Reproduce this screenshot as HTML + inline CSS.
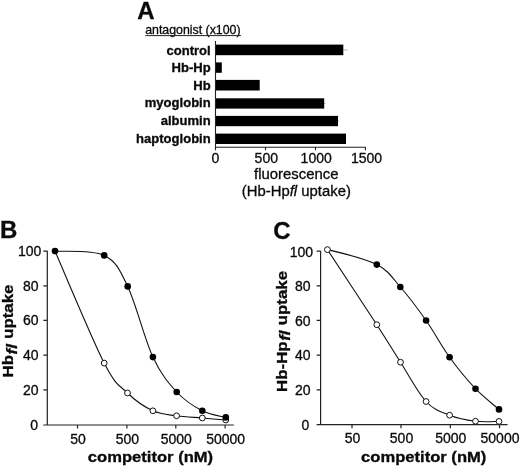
<!DOCTYPE html>
<html><head><meta charset="utf-8"><title>Figure</title>
<style>
html,body{margin:0;padding:0;background:#fff;}
body{width:520px;height:468px;overflow:hidden;font-family:"Liberation Sans",sans-serif;}
svg{display:block;filter:grayscale(1);font-family:"Liberation Sans",sans-serif;fill:#0a0a0a;}
text{stroke:#0a0a0a;stroke-width:0.3px;}
</style></head><body>
<svg width="520" height="468" viewBox="0 0 520 468">
<rect width="520" height="468" fill="#fff"/>
<text x="137.3" y="19.3" font-size="24" font-weight="bold">A</text>
<text x="145.2" y="33.6" font-size="12.35">antagonist (x100)</text>
<rect x="145.3" y="35.1" width="95.6" height="1" fill="#222"/>
<text transform="translate(210.7 54.6) scale(1.07 1)" font-size="12.2" font-weight="bold" text-anchor="end">control</text>
<text transform="translate(210.7 72.1) scale(1.07 1)" font-size="12.2" font-weight="bold" text-anchor="end">Hb-Hp</text>
<text transform="translate(210.7 90.0) scale(1.07 1)" font-size="12.2" font-weight="bold" text-anchor="end">Hb</text>
<text transform="translate(210.7 107.4) scale(1.07 1)" font-size="12.2" font-weight="bold" text-anchor="end">myoglobin</text>
<text transform="translate(210.7 125.3) scale(1.07 1)" font-size="12.2" font-weight="bold" text-anchor="end">albumin</text>
<text transform="translate(210.7 142.8) scale(1.07 1)" font-size="12.2" font-weight="bold" text-anchor="end">haptoglobin</text>
<rect x="215.5" y="44.6" width="127.8" height="10.6" fill="#000"/>
<rect x="215.5" y="62.4" width="6.3" height="10.4" fill="#000"/>
<rect x="215.5" y="79.9" width="44.2" height="10.6" fill="#000"/>
<rect x="215.5" y="98.3" width="108.7" height="10.3" fill="#000"/>
<rect x="215.5" y="115.9" width="122.5" height="10.3" fill="#000"/>
<rect x="215.5" y="133.6" width="130.5" height="10.4" fill="#000"/>
<path d="M343 50 H347.3 M324 103.5 H325.6 M338 121 H339" stroke="#999" stroke-width="0.8" fill="none"/>
<path d="M215.5 41 V147.3 M214.9 147.3 H365.9 M215.5 147.3 V150.2 M265.5 147.3 V150.2 M315.5 147.3 V150.2 M365.4 147.3 V150.2" stroke="#222" stroke-width="1.1" fill="none"/>
<text x="215.5" y="162.6" font-size="14" text-anchor="middle">0</text>
<text x="266.3" y="162.6" font-size="14" text-anchor="middle">500</text>
<text x="316.2" y="162.6" font-size="14" text-anchor="middle">1000</text>
<text x="366.5" y="162.6" font-size="14" text-anchor="middle">1500</text>
<text transform="translate(296.3 179) scale(1.06 1)" font-size="14.05" text-anchor="middle">fluorescence</text>
<text transform="translate(296.3 195.8) scale(1.06 1)" font-size="14.05" text-anchor="middle">(Hb-Hp<tspan font-style="italic">fl</tspan> uptake)</text>
<text x="0" y="238.3" font-size="24" font-weight="bold">B</text>
<path d="M47.3 250.7 V425.0 M46.8 425.0 H233.8 M43.3 251.2 H47.3 M43.3 285.8 H47.3 M43.3 320.4 H47.3 M43.3 355.1 H47.3 M43.3 389.8 H47.3 M43.3 425.0 H47.3 M77.5 425.0 V428.5 M126.9 425.0 V428.5 M175.8 425.0 V428.5 M225.1 425.0 V428.5" stroke="#222" stroke-width="1.2" fill="none"/>
<text x="41.3" y="255.9" font-size="14" text-anchor="end">100</text>
<text x="38.6" y="290.5" font-size="14" text-anchor="end">80</text>
<text x="38.6" y="325.1" font-size="14" text-anchor="end">60</text>
<text x="38.6" y="359.8" font-size="14" text-anchor="end">40</text>
<text x="38.6" y="394.5" font-size="14" text-anchor="end">20</text>
<text x="38" y="429.7" font-size="14" text-anchor="end">0</text>
<text x="78.0" y="443.8" font-size="14" text-anchor="middle">50</text>
<text x="127.4" y="443.8" font-size="14" text-anchor="middle">500</text>
<text x="176.3" y="443.8" font-size="14" text-anchor="middle">5000</text>
<text x="225.6" y="443.8" font-size="14" text-anchor="middle">50000</text>
<text transform="translate(150.5 461.6) scale(1.125 1)" font-size="14.75" font-weight="bold" text-anchor="middle">competitor (nM)</text>
<text transform="translate(13.0 331) rotate(-90) scale(1.125 1)" font-size="15" font-weight="bold" text-anchor="middle">Hb<tspan font-style="italic" dy="3.5" dx="0.5">fl</tspan><tspan dy="-3.5" dx="0.5"> uptake</tspan></text>
<path d="M55.00 251.10 C63.20 269.77 92.12 339.45 104.20 363.10 C116.28 386.75 119.38 385.05 127.50 393.00 C135.62 400.95 144.72 407.00 152.90 410.80 C161.08 414.60 168.37 414.60 176.60 415.80 C184.83 417.00 194.10 417.30 202.30 418.00 C210.50 418.70 221.88 419.67 225.80 420.00" stroke="#111" stroke-width="1.1" fill="none"/>
<path d="M55.00 251.10 C63.20 251.82 92.08 249.52 104.20 255.40 C116.32 261.28 119.58 269.45 127.70 286.40 C135.82 303.35 144.73 339.50 152.90 357.10 C161.07 374.70 168.47 383.05 176.70 392.00 C184.93 400.95 194.12 406.57 202.30 410.80 C210.48 415.03 221.88 416.30 225.80 417.40" stroke="#111" stroke-width="1.1" fill="none"/>
<circle cx="104.2" cy="363.1" r="2.9" fill="#fff" stroke="#111" stroke-width="1"/>
<circle cx="127.5" cy="393" r="2.9" fill="#fff" stroke="#111" stroke-width="1"/>
<circle cx="152.9" cy="410.8" r="2.9" fill="#fff" stroke="#111" stroke-width="1"/>
<circle cx="176.6" cy="415.8" r="2.9" fill="#fff" stroke="#111" stroke-width="1"/>
<circle cx="202.3" cy="418" r="2.9" fill="#fff" stroke="#111" stroke-width="1"/>
<circle cx="225.8" cy="420" r="2.9" fill="#fff" stroke="#111" stroke-width="1"/>
<circle cx="55" cy="251.1" r="3.3" fill="#000"/>
<circle cx="104.2" cy="255.4" r="3.3" fill="#000"/>
<circle cx="127.7" cy="286.4" r="3.3" fill="#000"/>
<circle cx="152.9" cy="357.1" r="3.3" fill="#000"/>
<circle cx="176.7" cy="392" r="3.3" fill="#000"/>
<circle cx="202.3" cy="410.8" r="3.3" fill="#000"/>
<circle cx="225.8" cy="417.4" r="3.3" fill="#000"/>
<text x="273.2" y="238.7" font-size="24" font-weight="bold">C</text>
<path d="M320.6 250.7 V424.7 M320.1 424.7 H507.5 M316.6 251.2 H320.6 M316.6 285.8 H320.6 M316.6 320.4 H320.6 M316.6 355.1 H320.6 M316.6 389.8 H320.6 M316.6 424.7 H320.6 M352 424.7 V428.2 M401 424.7 V428.2 M450.3 424.7 V428.2 M499.5 424.7 V428.2" stroke="#222" stroke-width="1.2" fill="none"/>
<text x="313" y="256.5" font-size="14" text-anchor="end">100</text>
<text x="310.6" y="291.1" font-size="14" text-anchor="end">80</text>
<text x="310.6" y="325.7" font-size="14" text-anchor="end">60</text>
<text x="310.6" y="360.4" font-size="14" text-anchor="end">40</text>
<text x="310.6" y="395.1" font-size="14" text-anchor="end">20</text>
<text x="309.2" y="430.0" font-size="14" text-anchor="end">0</text>
<text x="352.5" y="443.4" font-size="14" text-anchor="middle">50</text>
<text x="401.5" y="443.4" font-size="14" text-anchor="middle">500</text>
<text x="450.8" y="443.4" font-size="14" text-anchor="middle">5000</text>
<text x="500.0" y="443.4" font-size="14" text-anchor="middle">50000</text>
<text transform="translate(423.7 461.6) scale(1.125 1)" font-size="14.75" font-weight="bold" text-anchor="middle">competitor (nM)</text>
<text transform="translate(286.5 331.4) rotate(-90) scale(1.125 1)" font-size="15" font-weight="bold" text-anchor="middle">Hb-Hp<tspan font-style="italic" dy="3.5" dx="0.5">fl</tspan><tspan dy="-3.5" dx="0.5"> uptake</tspan></text>
<path d="M327.40 249.60 C335.63 262.12 364.62 305.93 376.80 324.70 C388.98 343.47 392.28 349.40 400.50 362.20 C408.72 375.00 417.92 392.67 426.10 401.50 C434.28 410.33 441.37 411.92 449.60 415.20 C457.83 418.48 467.27 420.17 475.50 421.20 C483.73 422.23 495.08 421.37 499.00 421.40" stroke="#111" stroke-width="1.1" fill="none"/>
<path d="M327.40 249.60 C346.02 253.98 364.65 258.37 376.80 264.60 C388.95 270.83 392.08 277.68 400.30 287.00 C408.52 296.32 417.88 308.80 426.10 320.50 C434.32 332.20 441.37 345.83 449.60 357.20 C457.83 368.57 467.27 380.00 475.50 388.70 C483.73 397.40 495.08 405.95 499.00 409.40" stroke="#111" stroke-width="1.1" fill="none"/>
<circle cx="376.8" cy="264.6" r="3.3" fill="#000"/>
<circle cx="400.3" cy="287" r="3.3" fill="#000"/>
<circle cx="426.1" cy="320.5" r="3.3" fill="#000"/>
<circle cx="449.6" cy="357.2" r="3.3" fill="#000"/>
<circle cx="475.5" cy="388.7" r="3.3" fill="#000"/>
<circle cx="499" cy="409.4" r="3.3" fill="#000"/>
<circle cx="376.8" cy="324.7" r="2.9" fill="#fff" stroke="#111" stroke-width="1"/>
<circle cx="400.5" cy="362.2" r="2.9" fill="#fff" stroke="#111" stroke-width="1"/>
<circle cx="426.1" cy="401.5" r="2.9" fill="#fff" stroke="#111" stroke-width="1"/>
<circle cx="449.6" cy="415.2" r="2.9" fill="#fff" stroke="#111" stroke-width="1"/>
<circle cx="475.5" cy="421.2" r="2.9" fill="#fff" stroke="#111" stroke-width="1"/>
<circle cx="499" cy="421.4" r="2.9" fill="#fff" stroke="#111" stroke-width="1"/>
<circle cx="327.4" cy="249.6" r="2.9" fill="#fff" stroke="#111" stroke-width="1"/>
</svg>
</body></html>
